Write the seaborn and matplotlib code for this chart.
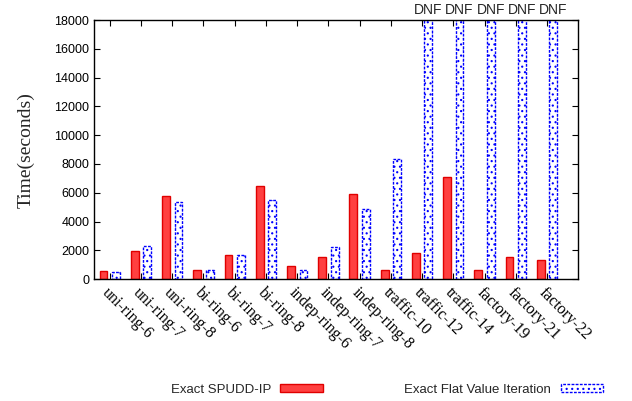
import matplotlib
matplotlib.use("Agg")
import matplotlib.pyplot as plt
from matplotlib.patches import Patch
import pandas as pd
import seaborn as sns

# data (seconds); None = did not finish
problems = ["uni-ring-6", "uni-ring-7", "uni-ring-8", "bi-ring-6", "bi-ring-7", "bi-ring-8",
            "indep-ring-6", "indep-ring-7", "indep-ring-8", "traffic-10", "traffic-12",
            "traffic-14", "factory-19", "factory-21", "factory-22"]
spudd_ip = [560, 1930, 5750, 650, 1700, 6470, 930, 1510, 5910, 650, 1790, 7090, 600, 1510, 1300]
flat_vi = [510, 2280, 5350, 650, 1650, 5470, 600, 2210, 4860, 8350, None, None, None, None, None]
methods = ["Exact SPUDD-IP", "Exact Flat Value Iteration"]
y_max = 18000
dnf_height = 20000  # drawn past the top of the axes, like the original


def build_frame():
    rows = []
    for name, a, b in zip(problems, spudd_ip, flat_vi):
        rows.append([name, methods[0], a])
        rows.append([name, methods[1], dnf_height if b is None else b])
    return pd.DataFrame(rows, columns=["problem", "method", "time"])


def main():
    sns.set_style("ticks")
    plt.rcParams["font.family"] = ["Liberation Sans", "DejaVu Sans"]
    plt.rcParams["hatch.linewidth"] = 0.8
    plt.rcParams["hatch.color"] = "blue"

    df = build_frame()
    fig = plt.figure(figsize=(6.32, 4.01), dpi=100)
    ax = fig.add_axes([0.149, 0.304, 0.766, 0.646])

    sns.barplot(data=df, x="problem", y="time", hue="method", order=problems,
                hue_order=methods, width=0.8, gap=0.375, palette=["#ff4040", "white"],
                ax=ax, legend=False)

    red, blue = ax.containers[0], ax.containers[1]
    for bar in red:
        bar.set_facecolor("#ff4040")
        bar.set_edgecolor("#e00000")
        bar.set_linewidth(1.0)
    for bar in blue:
        bar.set_facecolor("white")
        bar.set_edgecolor("blue")
        bar.set_hatch("...")
        bar.set_linestyle((0, (2, 1)))
        bar.set_linewidth(1.0)

    for bar, val in zip(blue, flat_vi):
        if val is None:
            ax.text(bar.get_x() + bar.get_width() / 2, y_max * 1.012, "DNF",
                    ha="center", va="bottom", fontsize=10, clip_on=False)

    ax.set_xlim(-0.5, len(problems))
    ax.set_ylim(0, y_max)
    ax.set_yticks(range(0, y_max + 1, 2000))
    ax.set_xlabel("")
    ax.set_ylabel("Time(seconds)", family=["Liberation Serif"], fontsize=14, labelpad=14)

    for side in ["top", "right", "left", "bottom"]:
        ax.spines[side].set_visible(True)
        ax.spines[side].set_linewidth(1.0)
        ax.spines[side].set_color("black")
    ax.tick_params(direction="in", length=4, width=0.8, top=True, right=True,
                   labelsize=9, colors="black")
    ax.tick_params(axis="x", pad=4)
    for lab in ax.get_xticklabels():
        lab.set_rotation(-45)
        lab.set_ha("left")
        lab.set_va("top")
        lab.set_rotation_mode("anchor")
        lab.set_family(["Liberation Serif"])
        lab.set_fontsize(11.5)

    handles = [Patch(facecolor="#ff4040", edgecolor="#e00000", lw=1.0),
               Patch(facecolor="white", edgecolor="blue", hatch="...", lw=1.0,
                     linestyle=(0, (2, 1)))]
    fig.legend(handles, methods, ncol=2, markerfirst=False, frameon=False,
               loc="center", bbox_to_anchor=(0.612, 0.028), fontsize=9.5,
               handlelength=3.2, handleheight=0.55, handletextpad=0.7,
               columnspacing=6.2)

    fig.savefig("out.png", dpi=100)


if __name__ == "__main__":
    main()
